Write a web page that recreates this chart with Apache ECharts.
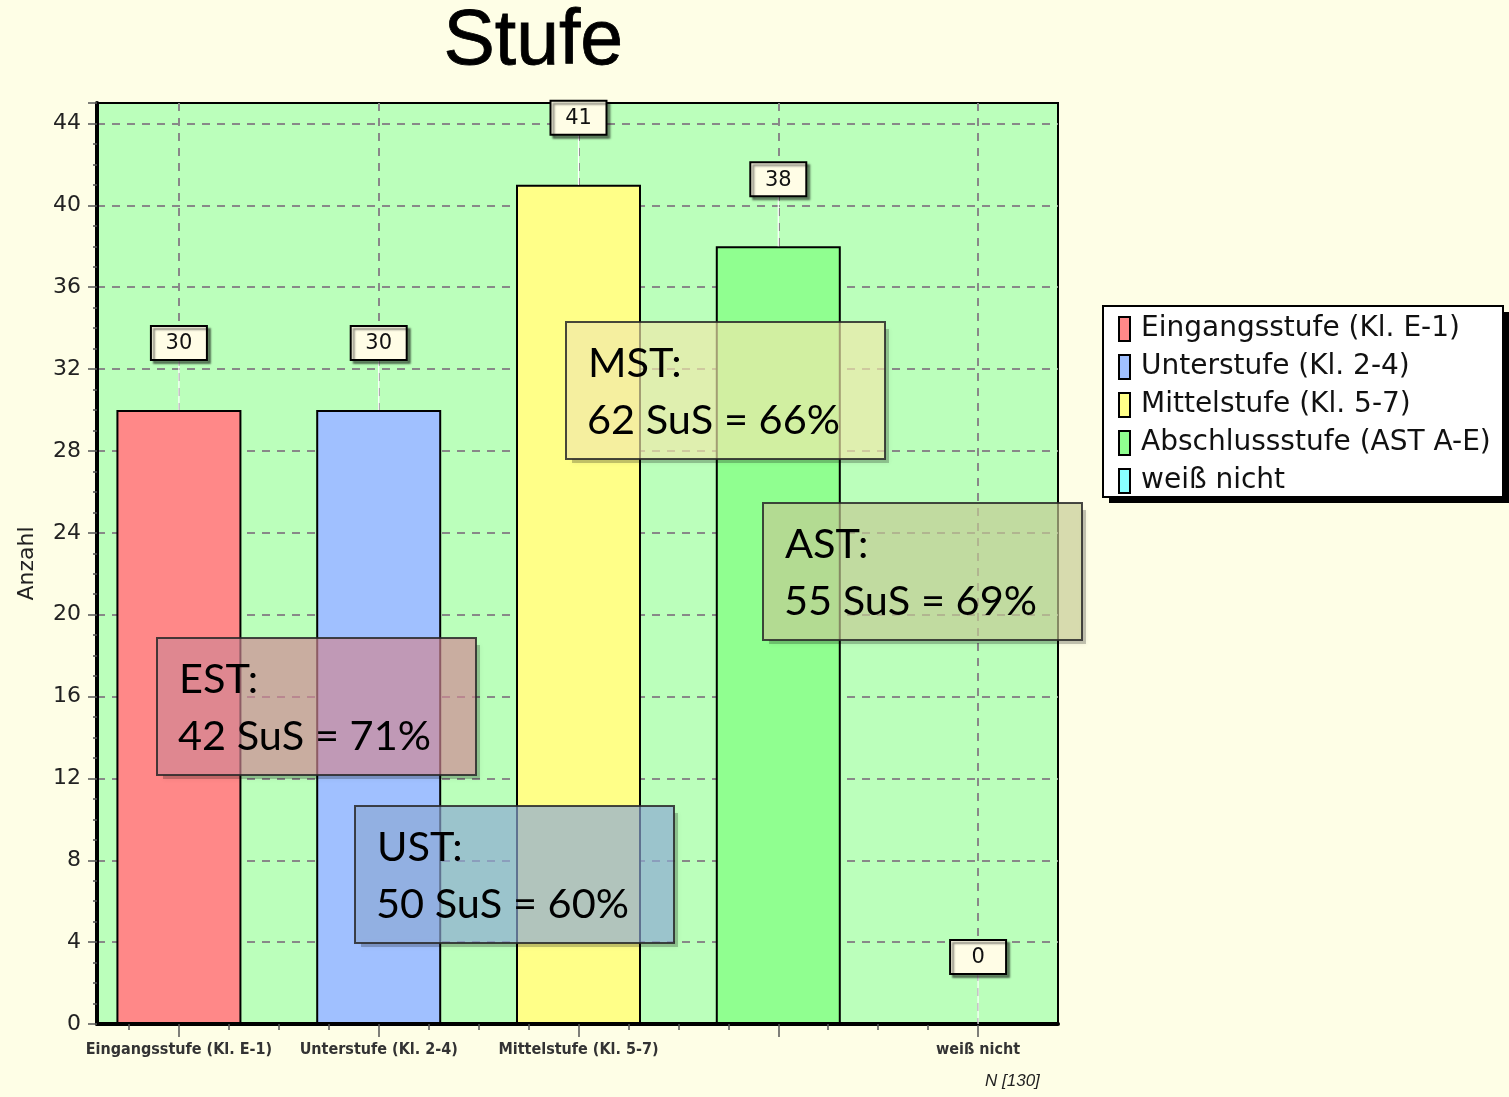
<!DOCTYPE html>
<html>
<head>
<meta charset="utf-8">
<script src="https://cdn.jsdelivr.net/npm/echarts@6/dist/echarts.min.js"></script>
<style>
  html, body { margin: 0; padding: 0; background: #fefee6; }
  #container { width: 1509px; height: 1097px; }
</style>
</head>
<body>
<div id="container"></div>
<script>
var dom = document.getElementById("container");
var myChart = echarts.init(dom);

// data
var categories = ["Eingangsstufe (Kl. E-1)", "Unterstufe (Kl. 2-4)", "Mittelstufe (Kl. 5-7)", "Abschlussstufe (AST A-E)", "weiß nicht"];
var axisLabels = ["Eingangsstufe (Kl. E-1)", "Unterstufe (Kl. 2-4)", "Mittelstufe (Kl. 5-7)", "", "weiß nicht"];
var counts = [30, 30, 41, 38, 0];
var barColors = ["#ff8888", "#a0c0ff", "#ffff88", "#90ff90", "#88ffff"];

// the overlaid note boxes
var noteTitles = ["EST:", "UST:", "MST:", "AST:"];
var noteTexts = ["42 SuS = 71%", "50 SuS = 60%", "62 SuS = 66%", "55 SuS = 69%"];
var noteFills = ["rgba(208,134,148,0.68)", "rgba(140,168,212,0.68)", "rgba(240,232,170,0.68)", "rgba(196,202,148,0.68)"];
var noteBoxes = [[157, 638], [355, 806], [566, 322], [763, 503]];

var catIdx = categories.map(function (c, i) { return i; });
var quarterTicks = [];
for (var q = 0; q <= 17; q++) { quarterTicks.push(-0.25 + q * 0.25); }

var series = [];
categories.forEach(function (name, i) {
  series.push({
    name: name,
    type: "bar",
    xAxisIndex: 0,
    barWidth: 125,
    barGap: "-100%",
    data: [[i, counts[i]]],
    itemStyle: { color: barColors[i], borderColor: "#000", borderWidth: 2 },
    z: 3
  });
});

//value boxes with the white line up from the bar
series.push({
  type: "custom",
  xAxisIndex: 0,
  clip: false,
  z: 5,
  data: counts.map(function (v, i) { return [i, v]; }),
  renderItem: function (params, api) {
    var p = api.coord([api.value(0), api.value(1)]);
    var top = p[1] - 50;
    return {
      type: "group",
      children: [
        { type: "line", shape: { x1: p[0], y1: p[1], x2: p[0], y2: top }, style: { stroke: "#ffffff", lineWidth: 1.2 } },
        {
          type: "rect",
          shape: { x: p[0] - 28, y: top - 34, width: 56, height: 34 },
          style: { fill: "#fffde6", stroke: "#000", lineWidth: 2, shadowColor: "rgba(0,0,0,0.45)", shadowOffsetX: 3, shadowOffsetY: 3, shadowBlur: 2 }
        },
        {
          type: "text",
          x: p[0], y: top - 16,
          style: { text: String(api.value(1)), fontSize: 21, fontFamily: "DejaVu Sans", fill: "#111", align: "center", verticalAlign: "middle" }
        }
      ]
    };
  }
});

var graphics = [
  {
    type: "text", left: 443, top: 4, z: 10,
    style: { text: "Stufe", fontSize: 77, fontFamily: "Liberation Sans", fill: "#000", stroke: "#000", lineWidth: 0.8 }
  },
  {
    type: "text", left: 985, top: 1073, z: 10,
    style: { text: "N [130]", fontSize: 17, fontStyle: "italic", fontFamily: "Liberation Sans", fill: "#222" }
  },
  // legend frame with its hard black shadow
  { type: "rect", z: 1, shape: { x: 1109, y: 312, width: 400, height: 191 }, style: { fill: "#000" } },
  { type: "rect", z: 2, shape: { x: 1103, y: 306, width: 400, height: 191 }, style: { fill: "#fff", stroke: "#000", lineWidth: 2 } }
];

noteTitles.forEach(function (t, i) {
  var b = noteBoxes[i];
  var w = 319, h = 137;
  // soft shadow only along the right and bottom edges
  graphics.push({
    type: "polyline", z: 99,
    shape: { points: [[b[0] + w + 2, b[1] + 7], [b[0] + w + 2, b[1] + h + 2], [b[0] + 6, b[1] + h + 2]] },
    style: { stroke: "rgba(0,0,0,0.22)", lineWidth: 4, fill: null, shadowColor: "rgba(0,0,0,0.3)", shadowBlur: 5 }
  });
  graphics.push({
    type: "rect", z: 100,
    shape: { x: b[0], y: b[1], width: w, height: h },
    style: { fill: noteFills[i], stroke: "rgba(40,40,40,0.85)", lineWidth: 2 }
  });
  graphics.push({ type: "text", z: 101, x: b[0] + 22, y: b[1] + 42, style: { text: t, fontSize: 41.5, fontFamily: "Lato", fill: "#000", verticalAlign: "middle" } });
  graphics.push({ type: "text", z: 101, x: b[0] + 21, y: b[1] + 99, style: { text: noteTexts[i], fontSize: 41.5, fontFamily: "Lato", fill: "#000", verticalAlign: "middle" } });
});

var option = {
  animation: false,
  backgroundColor: "#fefee6",
  graphic: graphics,
  legend: {
    orient: "vertical",
    left: 1106,
    top: 314,
    padding: [0, 0, 0, 12],
    icon: "rect",
    itemWidth: 11,
    itemHeight: 24,
    itemGap: 8,
    z: 5,
    itemStyle: { borderColor: "#000", borderWidth: 2 },
    textStyle: { fontSize: 28, lineHeight: 30, fontFamily: "DejaVu Sans", color: "#111", padding: [0, 0, 0, 6] },
    data: categories
  },
  grid: {
    left: 97,
    top: 103,
    right: 451,
    bottom: 73,
    show: true,
    backgroundColor: "#bbffbb",
    borderColor: "#000",
    borderWidth: 2
  },
  xAxis: [
    {
      type: "value",
      min: -0.41,
      max: 4.4,
      axisLine: { show: true, lineStyle: { color: "#000", width: 4 } },
      axisTick: { show: true, customValues: catIdx, length: 13, lineStyle: { color: "#555", width: 1.5 } },
      axisLabel: {
        customValues: catIdx,
        margin: 18,
        fontSize: 16,
        fontWeight: "bold",
        fontFamily: "DejaVu Sans Condensed",
        color: "#333",
        formatter: function (v) { return axisLabels[Math.round(v)] || ""; }
      },
      splitLine: { show: true, lineStyle: { color: "#888", type: [8, 7], width: 2 } }
    },
    {
      type: "value",
      min: -0.41,
      max: 4.4,
      position: "bottom",
      axisLine: { show: false },
      axisTick: { show: true, customValues: quarterTicks, length: 6, lineStyle: { color: "#555", width: 1.5 } },
      axisLabel: { show: false },
      splitLine: { show: false }
    }
  ],
  yAxis: {
    type: "value",
    min: 0,
    max: 45,
    interval: 4,
    name: "Anzahl",
    nameLocation: "middle",
    nameGap: 59,
    nameTextStyle: { fontSize: 22, fontFamily: "DejaVu Sans", color: "#222" },
    axisLine: { show: true, onZero: false, lineStyle: { color: "#000", width: 4 } },
    axisTick: { show: true, length: 9, lineStyle: { color: "#555", width: 1.5 } },
    minorTick: { show: true, splitNumber: 4, length: 4, lineStyle: { color: "#555", width: 1.5 } },
    axisLabel: { margin: 16, fontSize: 22, fontFamily: "DejaVu Sans", color: "#222" },
    splitLine: { show: true, showMaxLine: false, lineStyle: { color: "#888", type: [8, 7], width: 2 } }
  },
  series: series
};

myChart.setOption(option);
</script>
</body>
</html>
